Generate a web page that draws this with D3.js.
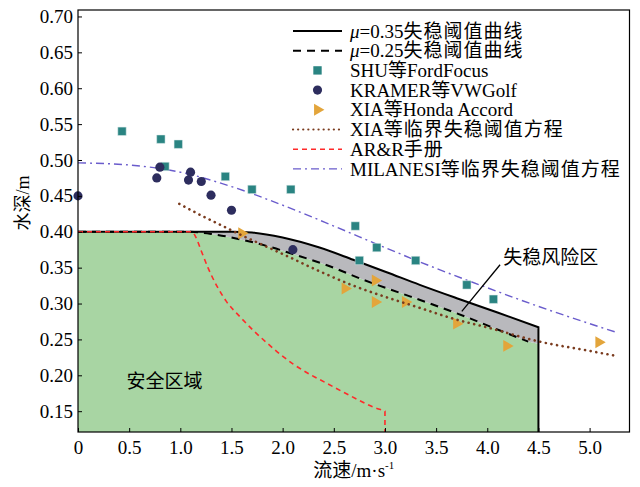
<!DOCTYPE html>
<html>
<head>
<meta charset="utf-8">
<script src="https://cdn.jsdelivr.net/npm/d3@7"></script>
<style>
  body { margin: 0; background: #fff; }
  text { font-family: "Liberation Serif", "Noto Sans CJK SC", serif; fill: #000; }
</style>
</head>
<body>
<svg id="chart" width="640" height="487"></svg>
<script>
// tick labels
let xTicks = [0, 0.5, 1.0, 1.5, 2.0, 2.5, 3.0, 3.5, 4.0, 4.5, 5.0]
let yTicks = [0.15, 0.20, 0.25, 0.30, 0.35, 0.40, 0.45, 0.50, 0.55, 0.60, 0.65, 0.70]

// mu = 0.35 threshold curve
let mu35X = [0, 1.2, 1.5, 1.7, 2.0, 2.36, 2.69, 3.01, 3.34, 3.73, 4.1, 4.5]
let mu35Y = [0.40, 0.40, 0.40, 0.399, 0.392, 0.378, 0.361, 0.344, 0.326, 0.306, 0.2875, 0.267]
// mu = 0.25 threshold curve
let mu25X = [0, 1.1, 1.3, 1.6, 1.9, 2.1, 2.46, 2.79, 3.145, 3.46, 3.8, 4.15, 4.4]
let mu25Y = [0.40, 0.40, 0.397, 0.389, 0.378, 0.369, 0.352, 0.333, 0.315, 0.299, 0.281, 0.261, 0.247]
let safeEnd = [4.5, 0.244]

// SHU et al. Ford Focus
let shuX = [0.43, 0.81, 0.85, 0.98, 1.44, 1.70, 2.08, 2.71, 2.75, 2.92, 3.30, 3.80, 4.06]
let shuY = [0.540, 0.529, 0.491, 0.522, 0.477, 0.459, 0.459, 0.408, 0.360, 0.378, 0.360, 0.326, 0.306]
// KRAMER et al. VW Golf
let kramerX = [0, 0.77, 0.80, 1.08, 1.10, 1.205, 1.30, 1.50, 2.10]
let kramerY = [0.450, 0.475, 0.490, 0.472, 0.483, 0.470, 0.451, 0.430, 0.375]
// XIA et al. Honda Accord
let xiaX = [1.60, 2.61, 2.905, 2.905, 3.20, 3.70, 4.19, 5.09]
let xiaY = [0.398, 0.321, 0.332, 0.302, 0.302, 0.272, 0.241, 0.246]

// XIA critical equation
let xiaEqX = [0.99, 1.2, 1.4, 1.6, 1.8, 2.0, 2.36, 2.69, 3.01, 3.34, 3.665, 4.02, 4.51, 5.0, 5.26]
let xiaEqY = [0.439, 0.423, 0.409, 0.395, 0.382, 0.369, 0.345, 0.325, 0.309, 0.294, 0.279, 0.266, 0.247, 0.234, 0.227]
// AR&R handbook
let arrX = [0, 1.0, 1.11, 1.15, 1.20, 1.27, 1.355, 1.45, 1.58, 1.71, 1.84, 1.97, 2.10, 2.27, 2.43, 2.6, 2.75, 2.88, 2.98, 3.0]
let arrY = [0.40, 0.40, 0.40, 0.393, 0.375, 0.350, 0.325, 0.303, 0.282, 0.263, 0.246, 0.230, 0.216, 0.201, 0.189, 0.176, 0.165, 0.156, 0.151, 0.150]
let arrFoot = [3.0, 0.121]
// MILANESI critical equation
let milX = [0, 0.5, 1.0, 1.5, 2.0, 2.5, 3.0, 3.5, 4.0, 4.5, 5.0, 5.26]
let milY = [0.496, 0.493, 0.483, 0.463, 0.437, 0.408, 0.378, 0.349, 0.322, 0.296, 0.272, 0.260]

let legendLabels = ['=0.35失稳阈值曲线', '=0.25失稳阈值曲线', 'SHU等FordFocus', 'KRAMER等VWGolf',
  'XIA等Honda Accord', 'XIA等临界失稳阈值方程', 'AR&R手册', 'MILANESI等临界失稳阈值方程']

let riskLabel = '失稳风险区'
let riskPos = [4.155, 0.365]
let riskLine = [[4.125, 0.354], [3.751, 0.289]]
let safeLabel = '安全区域'
let safePos = [0.475, 0.191]

let svg = d3.select('#chart')
let x = d3.scaleLinear().domain([0, 5.39]).range([78, 629.5])
let y = d3.scaleLinear().domain([0.121, 0.709]).range([432, 10])

let zip = (xs, ys) => xs.map((v, i) => [v, ys[i]])
let smooth = d3.line().x(d => x(d[0])).y(d => y(d[1])).curve(d3.curveMonotoneX)
let straight = d3.line().x(d => x(d[0])).y(d => y(d[1]))

let mu35 = zip(mu35X, mu35Y)
let mu25 = zip(mu25X, mu25Y)
let bottom = y.domain()[0]

// green safe area below mu=0.25 curve
let safeTop = mu25.concat([safeEnd])
svg.append('path')
   .attr('d', d3.area().x(d => x(d[0])).y0(y(bottom)).y1(d => y(d[1])).curve(d3.curveMonotoneX)(safeTop))
   .attr('fill', '#a8d5a3')

// gray risk band between the two curves
let bandTop = smooth(mu35.filter(d => d[0] >= 1.1))
let bandBottom = smooth(safeTop.filter(d => d[0] >= 1.1).slice().reverse())
svg.append('path')
   .attr('d', bandTop + 'L' + bandBottom.slice(1) + 'Z')
   .attr('fill', '#b9b9bd')

// lines
svg.append('path').attr('d', smooth(mu35) + 'L' + x(4.5) + ',' + y(bottom))
   .attr('fill', 'none').attr('stroke', '#000').attr('stroke-width', 2)
svg.append('path').attr('d', smooth(mu25))
   .attr('fill', 'none').attr('stroke', '#000').attr('stroke-width', 2).attr('stroke-dasharray', '8,6')
svg.append('path').attr('d', smooth(zip(milX, milY)))
   .attr('fill', 'none').attr('stroke', '#6a5ccc').attr('stroke-width', 1.4).attr('stroke-dasharray', '8,4,2,4')
svg.append('path').attr('d', smooth(zip(arrX, arrY)) + 'L' + x(arrFoot[0]) + ',' + y(arrFoot[1]))
   .attr('fill', 'none').attr('stroke', '#ff2a2a').attr('stroke-width', 1.6).attr('stroke-dasharray', '5,4')

// markers
let sq = d3.symbol(d3.symbolSquare, 70)
let ci = d3.symbol(d3.symbolCircle, 66)
let tri = d3.symbol(d3.symbolTriangle, 62)
svg.selectAll('.shu').data(zip(shuX, shuY)).enter().append('path')
   .attr('d', sq).attr('transform', d => `translate(${x(d[0])},${y(d[1])})`)
   .attr('fill', '#2a8482').attr('stroke', '#dcebea').attr('stroke-width', 0.5)
svg.selectAll('.kr').data(zip(kramerX, kramerY)).enter().append('path')
   .attr('d', ci).attr('transform', d => `translate(${x(d[0])},${y(d[1])})`)
   .attr('fill', '#2d2d5e')
svg.selectAll('.xia').data(zip(xiaX, xiaY)).enter().append('path')
   .attr('d', tri).attr('transform', d => `translate(${x(d[0])},${y(d[1])}) rotate(90)`)
   .attr('fill', '#e3a53b')

svg.append('path').attr('d', smooth(zip(xiaEqX, xiaEqY)))
   .attr('fill', 'none').attr('stroke', '#7a3b1e').attr('stroke-width', 2.6)
   .attr('stroke-linecap', 'round').attr('stroke-dasharray', '0.1,5.6')

// axes
let xAxis = d3.axisBottom(x).tickValues(xTicks).tickSize(-4).tickPadding(9)
  .tickFormat(d => d === 0 ? '0' : d.toFixed(1))
let yAxis = d3.axisLeft(y).tickValues(yTicks).tickSize(-4).tickPadding(5)
  .tickFormat(d => d.toFixed(2))
let gx = svg.append('g').attr('transform', `translate(0,${y(bottom)})`).call(xAxis)
let gy = svg.append('g').attr('transform', `translate(${x(0)},0)`).call(yAxis)
;[gx, gy].forEach(g => {
  g.select('.domain').remove()
  g.selectAll('text').attr('font-size', 19).attr('font-family', '"Liberation Serif", serif')
  g.selectAll('line').attr('stroke', '#000')
})
svg.append('rect').attr('x', x(0)).attr('y', y(0.709)).attr('width', x(5.39) - x(0)).attr('height', y(bottom) - y(0.709))
   .attr('fill', 'none').attr('stroke', '#000').attr('stroke-width', 1.2)

// axis titles
let xt = svg.append('text').attr('x', (x(0) + x(5.39)) / 2).attr('y', 477).attr('text-anchor', 'middle').attr('font-size', 19)
xt.append('tspan').text('流速/m·s')
xt.append('tspan').text('-1').attr('font-size', 11).attr('dy', -8)
svg.append('text').attr('transform', `translate(29,${y(0.44)}) rotate(-90)`).attr('text-anchor', 'middle')
   .attr('font-size', 18).text('水深/m')

// annotations
svg.append('path').attr('d', straight(riskLine)).attr('stroke', '#000').attr('stroke-width', 1.3)
svg.append('text').attr('x', x(riskPos[0])).attr('y', y(riskPos[1])).attr('dy', '0.35em')
   .attr('font-size', 19).text(riskLabel)
svg.append('text').attr('x', x(safePos[0])).attr('y', y(safePos[1])).attr('dy', '0.35em')
   .attr('font-size', 19).text(safeLabel)

// legend
let lgX = 293, lgW = 49, lgY = 31, lgStep = 19.7
let addLabel = (g, label, mu) => {
  let t = g.append('text').attr('x', lgX + 57).attr('y', 0).attr('dy', '0.35em').attr('font-size', 19)
  if (mu) t.append('tspan').text('μ').attr('font-style', 'italic')
  let prevCjk = false
  label.split(/([\u4e00-\u9fff]+)/).filter(s => s.length).forEach(s => {
    let sp = t.append('tspan').text(s)
    let cjk = /[\u4e00-\u9fff]/.test(s)
    if (cjk) sp.attr('letter-spacing', 1)
    else if (prevCjk) sp.attr('dx', -1)
    prevCjk = cjk
  })
}
legendLabels.forEach((label, i) => {
  let g = svg.append('g').attr('transform', `translate(0,${lgY + i * lgStep})`)
  let mid = lgX + lgW / 2
  if (i === 0) g.append('line').attr('x1', lgX).attr('x2', lgX + lgW).attr('stroke', '#000').attr('stroke-width', 2)
  if (i === 1) g.append('line').attr('x1', lgX).attr('x2', lgX + lgW).attr('stroke', '#000').attr('stroke-width', 2).attr('stroke-dasharray', '8,6')
  if (i === 2) g.append('path').attr('d', sq).attr('transform', `translate(${mid},0)`).attr('fill', '#2a8482')
  if (i === 3) g.append('path').attr('d', ci).attr('transform', `translate(${mid},0)`).attr('fill', '#2d2d5e')
  if (i === 4) g.append('path').attr('d', tri).attr('transform', `translate(${mid},0) rotate(90)`).attr('fill', '#e3a53b')
  if (i === 5) g.append('line').attr('x1', lgX).attr('x2', lgX + lgW).attr('stroke', '#7a3b1e').attr('stroke-width', 2.2)
     .attr('stroke-linecap', 'round').attr('stroke-dasharray', '0.1,5')
  if (i === 6) g.append('line').attr('x1', lgX).attr('x2', lgX + lgW).attr('stroke', '#ff2a2a').attr('stroke-width', 1.6).attr('stroke-dasharray', '5,4')
  if (i === 7) g.append('line').attr('x1', lgX).attr('x2', lgX + lgW).attr('stroke', '#6a5ccc').attr('stroke-width', 1.4).attr('stroke-dasharray', '8,4,2,4')
  addLabel(g, label, i < 2)
})
</script>
</body>
</html>
